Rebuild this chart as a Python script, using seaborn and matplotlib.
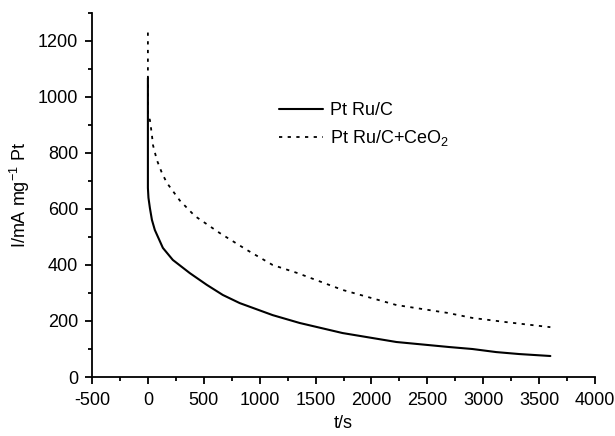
import numpy as np
import pandas as pd
import matplotlib
matplotlib.use("Agg")
import matplotlib.pyplot as plt
from matplotlib.ticker import MultipleLocator
import seaborn as sns

# PtRu/C (solid)
t_ptru = [0, 0, 5, 18, 36, 62, 134, 223, 375, 527, 670, 821, 1116, 1357,
          1741, 2223, 2696, 2902, 3116, 3321, 3600]
i_ptru = [1068, 675, 640, 603, 561, 525, 461, 418, 371, 329, 293, 264, 221, 193,
          157, 125, 107, 100, 89, 82, 75]

# PtRu/C+CeO2 (dashed)
t_ceo2 = [0, 0, 18, 36, 45, 80, 125, 170, 286, 420, 643, 884, 1116, 1339,
          1741, 2223, 2679, 2902, 3205, 3600]
i_ceo2 = [1230, 930, 918, 864, 829, 775, 729, 693, 630, 575, 514, 454, 400, 371,
          311, 257, 229, 211, 196, 178]

labels = ["Pt Ru/C", "Pt Ru/C+CeO$_2$"]

df = pd.concat([
    pd.DataFrame({"t": t_ptru, "I": i_ptru, "sample": labels[0]}),
    pd.DataFrame({"t": t_ceo2, "I": i_ceo2, "sample": labels[1]}),
])

sns.set_style("ticks")
plt.rcParams["font.family"] = ["Liberation Sans", "DejaVu Sans"]
plt.rcParams["mathtext.fontset"] = "custom"
plt.rcParams["mathtext.rm"] = "Liberation Sans"
plt.rcParams["mathtext.it"] = "Liberation Sans"
plt.rcParams["mathtext.default"] = "rm"
plt.rcParams["axes.unicode_minus"] = False
plt.rcParams["axes.linewidth"] = 1.3
plt.rcParams["text.color"] = "black"
plt.rcParams["axes.labelcolor"] = "black"
plt.rcParams["xtick.color"] = "black"
plt.rcParams["ytick.color"] = "black"
plt.rcParams["axes.edgecolor"] = "black"

fig = plt.figure(figsize=(6.15, 4.36), dpi=100)
ax = fig.add_axes([0.1496, 0.1353, 0.818, 0.835])

sns.lineplot(data=df, x="t", y="I", hue="sample", style="sample",
             palette=["black", "black"], dashes=["", (1.8, 3)],
             sort=False, estimator=None, linewidth=1.5, ax=ax)
ax.lines[1].set_linewidth(1.3)

ax.set_xlim(-500, 4000)
ax.set_ylim(0, 1300)
ax.xaxis.set_major_locator(MultipleLocator(500))
ax.xaxis.set_minor_locator(MultipleLocator(250))
ax.yaxis.set_major_locator(MultipleLocator(200))
ax.yaxis.set_minor_locator(MultipleLocator(100))
ax.tick_params(which="major", length=5, width=1.3, labelsize=13, direction="out")
ax.tick_params(which="minor", length=3, width=1.3, direction="out")
ax.tick_params(axis="x", which="major", pad=6)
ax.tick_params(axis="y", which="major", pad=5)
ax.set_xlabel("t/s", fontsize=13, labelpad=4)
ax.set_ylabel("I/mA mg$^{-1}$ Pt", fontsize=13, labelpad=4)
sns.despine(ax=ax)

leg = ax.legend(loc="upper left", bbox_to_anchor=(0.34, 0.80), frameon=False,
                fontsize=13, handlelength=2.4, handletextpad=0.4, labelspacing=0.5)
leg.get_lines()[1].set_linewidth(1.3)

fig.savefig("out.png", dpi=100)
